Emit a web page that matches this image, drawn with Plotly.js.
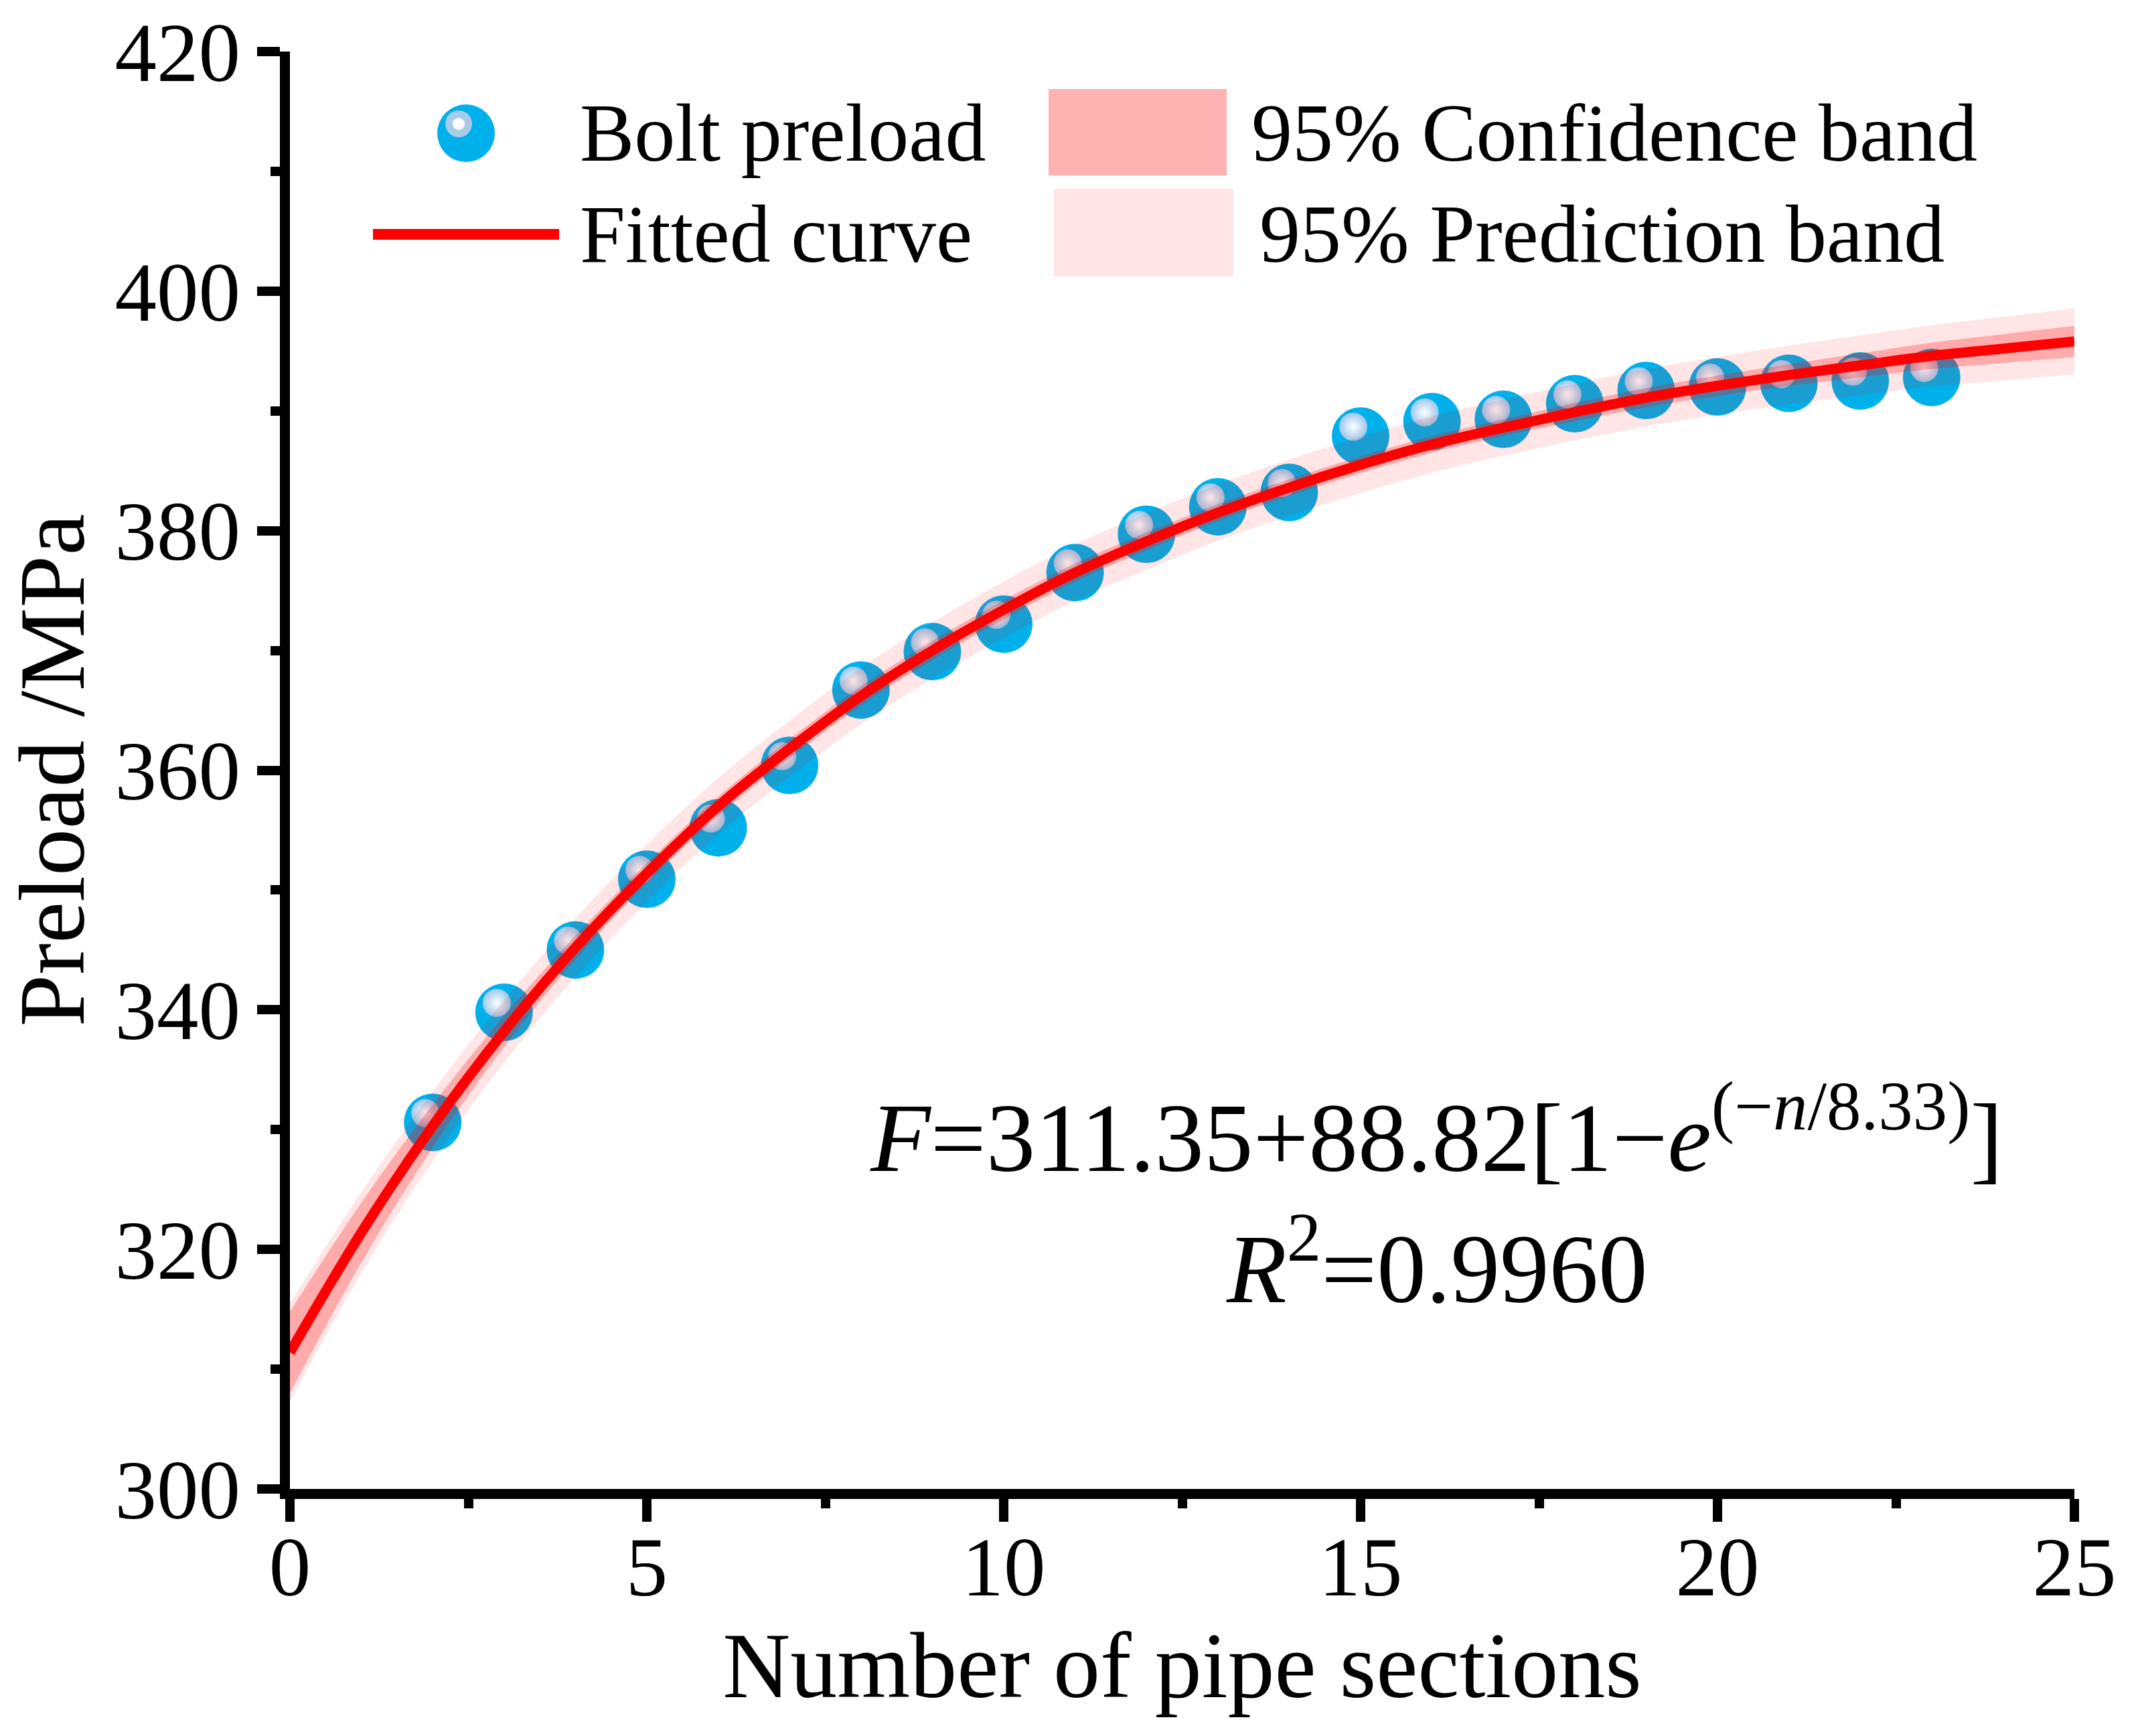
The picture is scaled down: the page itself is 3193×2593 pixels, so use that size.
<!DOCTYPE html>
<html>
<head>
<meta charset="utf-8">
<script src="https://cdn.plot.ly/plotly-3.0.1.min.js"></script>
<style>html,body{margin:0;padding:0;background:#fff}</style>
</head>
<body>
<div id="chart" style="width:3193px;height:2593px"></div>
<script>
// measured bolt preload for each pipe section
const sections = [2, 3, 4, 5, 6, 7, 8, 9, 10, 11, 12, 13, 14, 15, 16, 17, 18, 19, 20, 21, 22, 23];
const preload = [330.6, 339.8, 345.0, 350.9, 355.2, 360.4, 366.7, 369.9, 372.2, 376.5, 379.7,
                 382.0, 383.2, 387.9, 389.1, 389.3, 390.6, 391.7, 392.0, 392.3, 392.5, 392.8];

// fitted curve and band half widths at n = 0..25
const fitN = [0, 1, 2, 3, 4, 5, 6, 7, 8, 9, 10, 11, 12, 13, 14, 15, 16, 17, 18, 19, 20, 21, 22, 23, 24, 25];
const fitF = [311.4, 321.4, 330.3, 338.2, 345.2, 351.4, 357.0, 361.8, 366.2, 370.0, 373.4, 376.5, 379.1,
              381.5, 383.6, 385.5, 387.2, 388.6, 389.9, 391.1, 392.1, 393.0, 393.8, 394.6, 395.2, 395.8];
const confHalf = [3.4, 2.5, 1.8, 1.3, 1.0, 0.85, 0.8, 0.8, 0.8, 0.8, 0.8, 0.75, 0.75,
                  0.7, 0.7, 0.7, 0.7, 0.7, 0.75, 0.8, 0.85, 0.9, 1.0, 1.1, 1.2, 1.3];
const predHalf = [4.1, 3.4, 2.9, 2.6, 2.45, 2.4, 2.35, 2.35, 2.35, 2.35, 2.35, 2.35, 2.35,
                  2.35, 2.35, 2.35, 2.35, 2.35, 2.35, 2.4, 2.4, 2.45, 2.5, 2.55, 2.65, 2.75];

const xTicks = [0, 5, 10, 15, 20, 25];
const yTicks = [300, 320, 340, 360, 380, 400, 420];

const FONT = 'Liberation Serif, Times New Roman, serif';
const W = 3193, H = 2593;
const L = 433, R = 3098, T = 77, B = 2224;

// pixel -> paper helpers for the hand-placed legend
const px = v => (v - L) / (R - L);
const py = v => (B - v) / (B - T);

const lower = (h) => fitF.map((f, i) => f - h[i]);
const upper = (h) => fitF.map((f, i) => f + h[i]);

const band = (y, fill, color) => ({
    type: 'scatter', x: fitN, y: y, mode: 'lines', xaxis: 'x3', yaxis: 'y3',
    line: {width: 0, shape: 'spline'}, fill: fill, fillcolor: color,
    showlegend: false, hoverinfo: 'skip'
});

const traces = [
    {
        type: 'scatter', x: sections, y: preload, mode: 'markers', name: 'Bolt preload',
        marker: {size: 86, color: '#00b0ea', line: {width: 0}},
        showlegend: false
    },
    {
        // glossy highlight, on a slightly shifted overlay axis
        type: 'scatter', x: sections, y: preload, mode: 'markers', xaxis: 'x2', yaxis: 'y2',
        marker: {size: 42, color: '#9cc8ea', gradient: {type: 'radial', color: '#ffffff'}, line: {width: 0}},
        showlegend: false, hoverinfo: 'skip'
    },
    band(lower(predHalf), 'none', 'rgba(0,0,0,0)'),
    band(upper(predHalf), 'tonexty', 'rgba(255,0,0,0.10)'),
    band(lower(confHalf), 'none', 'rgba(0,0,0,0)'),
    band(upper(confHalf), 'tonexty', 'rgba(255,0,0,0.25)'),
    {
        type: 'scatter', x: fitN, y: fitF, mode: 'lines', name: 'Fitted curve',
        xaxis: 'x3', yaxis: 'y3',
        line: {color: '#ff0000', width: 15, shape: 'spline'},
        showlegend: false
    }
];

const axisBase = {
    showgrid: false, zeroline: false, showline: true,
    linecolor: '#000', linewidth: 15,
    ticks: 'outside', ticklen: 34, tickwidth: 14, tickcolor: '#000',
    tickfont: {family: FONT, size: 125, color: '#000'},
    fixedrange: true
};

const hidden = {visible: false, showgrid: false, zeroline: false, fixedrange: true};

const legendText = (text, x, y) => ({
    text: text, xref: 'paper', yref: 'paper', x: px(x), y: py(y),
    xanchor: 'left', yanchor: 'middle', showarrow: false,
    font: {family: FONT, size: 122, color: '#000'}
});

const layout = {
    width: W, height: H,
    margin: {l: L, r: W - R, t: T, b: H - B, pad: 0},
    paper_bgcolor: '#fff', plot_bgcolor: '#fff',
    font: {family: FONT, color: '#000'},
    showlegend: false,
    xaxis: Object.assign({}, axisBase, {
        range: [0, 25], tickmode: 'array', tickvals: xTicks,
        ticklabelstandoff: -40,
        minor: {dtick: 2.5, ticks: 'outside', ticklen: 14, tickwidth: 14, tickcolor: '#000'},
        title: {text: 'Number of pipe sections', font: {family: FONT, size: 140, color: '#000'}, standoff: 30}
    }),
    yaxis: Object.assign({}, axisBase, {
        range: [300, 420], tickmode: 'array', tickvals: yTicks,
        minor: {dtick: 10, ticks: 'outside', ticklen: 14, tickwidth: 14, tickcolor: '#000'},
        title: {text: 'Preload /MPa', font: {family: FONT, size: 140, color: '#000'}, standoff: 25}
    }),
    xaxis2: Object.assign({}, hidden, {overlaying: 'x', range: [0.103, 25.103]}),
    yaxis2: Object.assign({}, hidden, {overlaying: 'y', range: [299.22, 419.22]}),
    xaxis3: Object.assign({}, hidden, {overlaying: 'x', range: [0, 25]}),
    yaxis3: Object.assign({}, hidden, {overlaying: 'y', range: [300, 420]}),
    shapes: [
        {type: 'circle', xref: 'paper', yref: 'paper', xsizemode: 'pixel', ysizemode: 'pixel',
         xanchor: px(696), yanchor: py(199), x0: -43, x1: 43, y0: -43, y1: 43,
         fillcolor: '#00b0ea', line: {width: 0}},
        {type: 'circle', xref: 'paper', yref: 'paper', xsizemode: 'pixel', ysizemode: 'pixel',
         xanchor: px(685), yanchor: py(185), x0: -20, x1: 20, y0: -20, y1: 20,
         fillcolor: '#a9cbea', line: {width: 0}},
        {type: 'circle', xref: 'paper', yref: 'paper', xsizemode: 'pixel', ysizemode: 'pixel',
         xanchor: px(685), yanchor: py(185), x0: -9, x1: 9, y0: -9, y1: 9,
         fillcolor: '#ffffff', line: {width: 0}},
        {type: 'line', xref: 'paper', yref: 'paper',
         x0: px(557), x1: px(835), y0: py(350), y1: py(350),
         line: {color: '#ff0000', width: 16}},
        {type: 'rect', xref: 'paper', yref: 'paper',
         x0: px(1566), x1: px(1832), y0: py(133), y1: py(262),
         fillcolor: 'rgba(255,0,0,0.30)', line: {width: 0}},
        {type: 'rect', xref: 'paper', yref: 'paper',
         x0: px(1574), x1: px(1842), y0: py(282), y1: py(413),
         fillcolor: 'rgba(255,0,0,0.10)', line: {width: 0}}
    ],
    annotations: [
        legendText('Bolt preload', 864, 199),
        legendText('Fitted curve', 864, 350),
        legendText('95% Confidence band', 1867, 199),
        legendText('95% Prediction band', 1879, 350),
        {
            text: '<i>F</i>=311.35+88.82[1\u2212<i>e</i><sup>(\u2212<i>n</i>/8.33)</sup>]',
            xref: 'paper', yref: 'paper', x: px(2145), y: py(1688),
            xanchor: 'center', yanchor: 'middle', showarrow: false,
            font: {family: FONT, size: 147, color: '#000'}
        },
        {
            text: '<i>R</i><sup>2</sup>=0.9960',
            xref: 'paper', yref: 'paper', x: px(2145), y: py(1884),
            xanchor: 'center', yanchor: 'middle', showarrow: false,
            font: {family: FONT, size: 147, color: '#000'}
        }
    ]
};

Plotly.newPlot('chart', traces, layout, {staticPlot: true, displayModeBar: false});
</script>
</body>
</html>
